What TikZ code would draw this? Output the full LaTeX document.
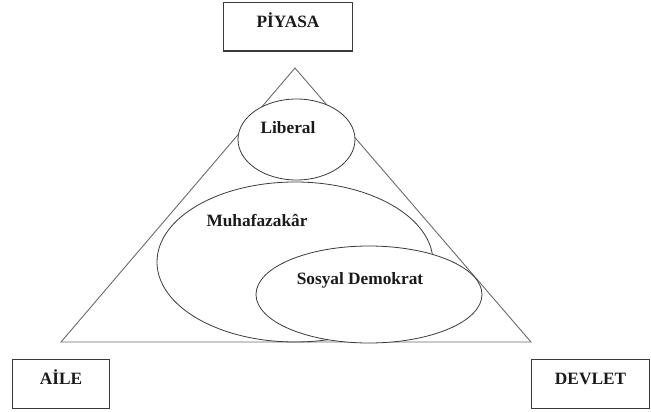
\documentclass[tikz,border=0pt]{standalone}
\usepackage{fontspec}
\setmainfont{Liberation Serif}
\usepackage{xcolor}
\usepackage{tikz}
\usetikzlibrary{shapes.geometric, positioning}
\definecolor{ink}{HTML}{1A1A1A}
\definecolor{inksoft}{HTML}{3A3A3A}
\definecolor{muted}{HTML}{6A6A6A}
\tikzset{
  frame/.style  = {draw=inksoft, line width=1.1pt, rectangle, inner sep=0pt,
                   text height=25pt, text depth=23.5pt, minimum height=48.5pt,
                   anchor=north west, font=\fontsize{17.3}{20}\selectfont\bfseries, text=ink},
  blob/.style   = {draw=inksoft, line width=0.8pt, ellipse, inner sep=0pt},
  side/.style   = {draw=muted, line width=0.9pt, line join=miter},
  tag/.style    = {anchor=base, inner sep=0pt, font=\fontsize{17.3}{20}\selectfont\bfseries, text=ink},
}

\begin{document}
\begin{tikzpicture}[x=1pt, y=-1pt]
  \useasboundingbox (0,0) rectangle (651,412);

  % corner boxes
  \node[frame, minimum width=129pt] (piyasa) at (223,2)   {PİYASA};
  \node[frame, minimum width=97pt]  (aile)   at (12,359)  {AİLE};
  \node[frame, minimum width=118pt] (devlet) at (531,359) {DEVLET};

  % triangle
  \coordinate (apex)  at (295,68);
  \coordinate (left)  at (61,342);
  \coordinate (right) at (531,342);
  \draw[side] (apex) -- (left) -- (right) -- cycle;

  % regimes
  \node[blob, minimum width=117pt, minimum height=81pt, fill=white] (liberal) at (296.5,139.5) {};
  \node[blob, minimum width=276pt, minimum height=160pt] (muhaf)   at (295,262) {};
  \node[blob, minimum width=226pt, minimum height=97pt, fill=white] (sosyal) at (369,294.5) {};

  \node[tag] (liberaltxt) at (288,133)   {Liberal};
  \node[tag] (muhaftxt)   at (257,226.5) {Muhafazakâr};
  \node[tag] (sosyaltxt)  at (360,284)   {Sosyal Demokrat};
\end{tikzpicture}
\end{document}
